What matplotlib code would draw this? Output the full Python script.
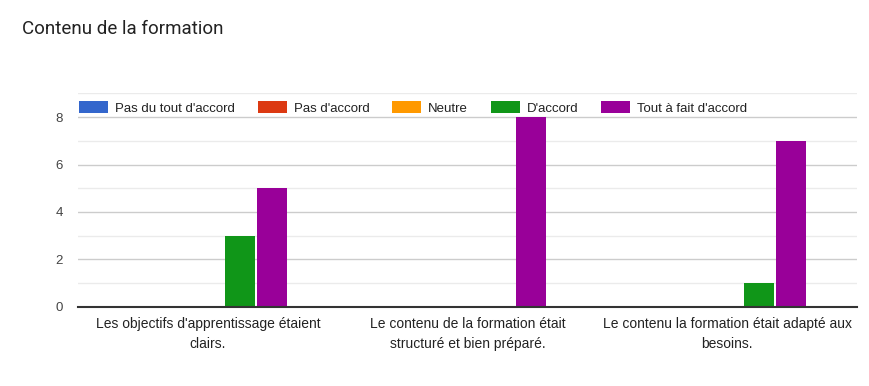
import matplotlib.pyplot as plt
import numpy as np
from matplotlib.ticker import MultipleLocator

plt.rcParams['font.family'] = ['Liberation Sans', 'DejaVu Sans']

categories = ["Les objectifs d'apprentissage étaient\nclairs.",
              "Le contenu de la formation était\nstructuré et bien préparé.",
              "Le contenu la formation était adapté aux\nbesoins."]
series = ["Pas du tout d'accord", "Pas d'accord", "Neutre", "D'accord", "Tout à fait d'accord"]
colors = ["#3366cc", "#dc3912", "#ff9900", "#109618", "#990099"]
values = [
    [0, 0, 0],
    [0, 0, 0],
    [0, 0, 0],
    [3, 0, 1],
    [5, 8, 7],
]

fig = plt.figure(figsize=(8.69, 3.86), dpi=100)
ax = fig.add_axes([0.0898, 0.2047, 0.8962, 0.5537])

x = np.arange(len(categories))
step = 0.123
width = 0.117
for i, (name, col, vals) in enumerate(zip(series, colors, values)):
    ax.bar(x + (i - 2) * step, vals, width, color=col, label=name, zorder=3)

ax.set_xlim(-0.5, 2.5)
ax.set_ylim(0, 9)
ax.yaxis.set_major_locator(MultipleLocator(2))
ax.yaxis.set_minor_locator(MultipleLocator(1))
ax.grid(axis='y', which='major', color='#cccccc', lw=1, zorder=0)
ax.grid(axis='y', which='minor', color='#ebebeb', lw=1, zorder=0)
ax.set_yticks([0, 2, 4, 6, 8])
for s in ['top', 'right', 'left']:
    ax.spines[s].set_visible(False)
ax.spines['bottom'].set_color('#333333')
ax.spines['bottom'].set_linewidth(1.5)
ax.spines['bottom'].set_zorder(4)
ax.tick_params(axis='both', which='both', length=0)
ax.tick_params(axis='y', labelsize=9.5, labelcolor='#444444', pad=11)
ax.set_xticks(x)
ax.set_xticklabels(categories, fontsize=10, color='#222222', linespacing=1.55)
ax.tick_params(axis='x', pad=7)

leg = ax.legend(ncol=5, loc='center left', bbox_to_anchor=(0, 0.932), borderaxespad=0,
                frameon=True, fontsize=9.5, handlelength=2.2, handleheight=1.0,
                handletextpad=0.5, columnspacing=1.75, borderpad=0.1)
leg.get_frame().set_facecolor('white')
leg.get_frame().set_edgecolor('none')
leg.get_frame().set_alpha(1)
for t in leg.get_texts():
    t.set_color('#222222')

fig.text(22 / 869, 1 - 29 / 386, "Contenu de la formation", fontsize=13.5,
         family=['Roboto', 'DejaVu Sans'], color='#222222', va='center', ha='left')

fig.savefig("out.png", dpi=100)
